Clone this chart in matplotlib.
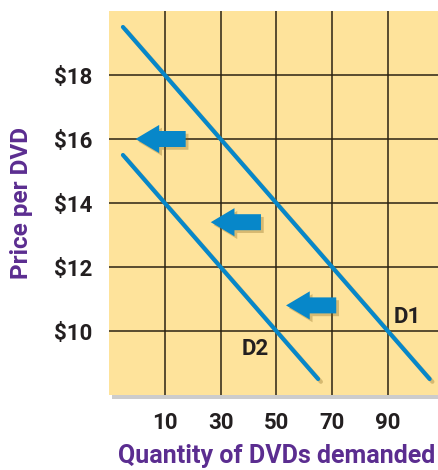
import matplotlib.pyplot as plt
import matplotlib.patches as mpatches
import matplotlib.patheffects as pe

# demand curves (quantity, price)
d1_qty = [-5, 105]
d1_price = [19.5, 8.5]
d2_qty = [-5, 65]
d2_price = [15.5, 8.5]

# shift arrows: tail quantity, tip quantity, price level
arrow_tail = [17.5, 44.5, 71.5]
arrow_tip = [-0.5, 26.5, 53.5]
arrow_price = [16.0, 13.4, 10.8]

x_ticks = [10, 30, 50, 70, 90]
y_ticks = [10, 12, 14, 16, 18]
y_labels = ['$10', '$12', '$14', '$16', '$18']

blue = '#0787C9'
purple = '#5B2D90'
yellow = '#FEE39B'

plt.rcParams['font.family'] = ['Roboto', 'DejaVu Sans']

fig = plt.figure(figsize=(4.38, 4.70), dpi=100)
ax = fig.add_axes([109/438, 1 - 395/470, 329/438, 384/470])
ax.set_facecolor(yellow)
ax.patch.set_path_effects([pe.SimplePatchShadow(offset=(2, -3), shadow_rgbFace='#9a9a9a', alpha=0.5), pe.Normal()])

ax.set_xlim(-10, 108)
ax.set_ylim(8, 20)
ax.set_xticks(x_ticks)
ax.set_yticks(y_ticks)
ax.set_yticklabels(y_labels)
ax.tick_params(length=0, labelsize=16, pad=12)
for lbl in ax.get_xticklabels() + ax.get_yticklabels():
    lbl.set_fontweight('bold')
    lbl.set_color('#231f20')
ax.grid(True, color='#2b2212', linewidth=1.1)
ax.set_axisbelow(True)
for s in ax.spines.values():
    s.set_visible(False)

shadow = [pe.SimpleLineShadow(offset=(2, -2), shadow_color='#7a5a10', alpha=0.3), pe.Normal()]
ax.plot(d1_qty, d1_price, color=blue, linewidth=3.0, solid_capstyle='round', path_effects=shadow, zorder=3)
ax.plot(d2_qty, d2_price, color=blue, linewidth=3.0, solid_capstyle='round', path_effects=shadow, zorder=3)

for tail, tip, p in zip(arrow_tail, arrow_tip, arrow_price):
    arr = mpatches.FancyArrow(tail, p, tip - tail, 0, width=0.5, head_width=0.88,
                              head_length=8.5, length_includes_head=True,
                              color=blue, linewidth=0, zorder=3)
    arr.set_path_effects([pe.SimplePatchShadow(offset=(2, -2), shadow_rgbFace='#7a5a10', alpha=0.3), pe.Normal()])
    ax.add_patch(arr)

ax.text(97, 10.45, 'D1', fontsize=16, fontweight='bold', color='#231f20', ha='center', va='center', zorder=4)
ax.text(42.6, 9.43, 'D2', fontsize=16, fontweight='bold', color='#231f20', ha='center', va='center', zorder=4)

ax.set_xlabel('Quantity of DVDs demanded', fontsize=18, fontweight='bold', color=purple, va='center')
ax.xaxis.set_label_coords(0.51, -0.159)
ax.set_ylabel('Price per DVD', fontsize=17.5, fontweight='bold', color=purple, va='center')
ax.yaxis.set_label_coords(-(109 - 22) / 329, 0.5)

fig.savefig('out.png', dpi=100)
